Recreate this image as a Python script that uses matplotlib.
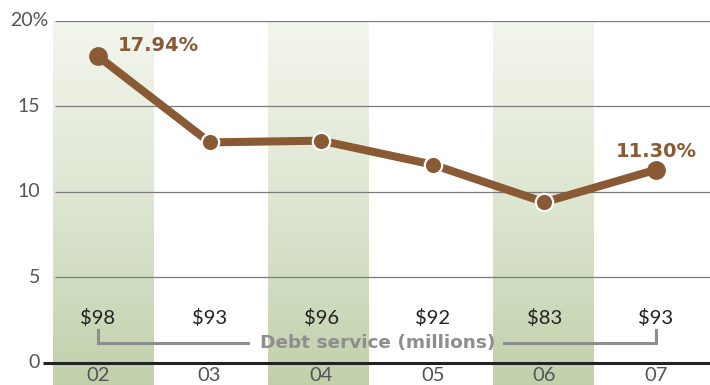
import numpy as np
import matplotlib
matplotlib.use("Agg")
import matplotlib.pyplot as plt
from matplotlib.colors import LinearSegmentedColormap

plt.rcParams['font.family'] = ['Lato', 'DejaVu Sans']

years = ["02", "03", "04", "05", "06", "07"]
ratio = [17.94, 12.9, 13.0, 11.6, 9.4, 11.30]
debt_service = [98, 93, 96, 92, 83, 93]
y_ticks = [0, 5, 10, 15, 20]
y_tick_labels = ["0", "5", "10", "15", "20%"]

brown = "#8a5a34"
grid_gray = "#7a7a7a"
text_gray = "#555555"
bracket_gray = "#8e8e8e"
bold_font = ['DejaVu Sans']

fig = plt.figure(figsize=(7.10, 3.85), dpi=100)
ax = fig.add_axes([0, 0, 1, 1 - 21 / 385])
x = np.arange(len(years))
ax.set_xlim(-0.878, 5.484)
ax.set_ylim(-1.29, 20)
ax.axis("off")

# Alternating green bands, fading to white toward the top
band_cmap = LinearSegmentedColormap.from_list("band", ["#f3f6ee", "#dde6d1", "#c1d0ab"])
grad = np.linspace(0, 1, 256).reshape(-1, 1)
band_centers = [0.045, 1.97, 3.99]
band_half = 0.45
for c in band_centers:
    ax.imshow(grad, extent=(c - band_half, c + band_half, -1.29, 20), cmap=band_cmap,
              aspect="auto", origin="upper", zorder=0, interpolation="bicubic")

# Grid lines and baseline
for t in y_ticks[1:]:
    ax.hlines(t, -0.385, 5.484, color=grid_gray, lw=0.9, zorder=1)
ax.hlines(0, -0.49, 5.484, color="#222222", lw=2.2, zorder=3)

# Y tick labels
for t, lab in zip(y_ticks, y_tick_labels):
    if lab.endswith("%"):
        ax.text(-0.79, t, lab, ha="left", va="center", fontsize=14, color=text_gray)
    else:
        ax.text(-0.52, t, lab, ha="right", va="center", fontsize=14, color=text_gray)

# X tick labels under the baseline
for xi, yr in zip(x, years):
    ax.text(xi, -0.75, yr, ha="center", va="center", fontsize=14.5, color=text_gray)

# Ratio line
ax.plot(x, ratio, color=brown, lw=5.8, zorder=4, solid_capstyle="round")
ax.plot(x[1:-1], ratio[1:-1], "o", ms=12.5, mfc=brown, mec="white", mew=1.6, zorder=5)
ax.plot([x[0], x[-1]], [ratio[0], ratio[-1]], "o", ms=12.5, mfc=brown, mec=brown, zorder=5)

ax.text(x[0] + 0.18, ratio[0] + 0.6, f"{ratio[0]:.2f}%", ha="left", va="center",
        fontsize=14, fontweight="bold", family=bold_font, color=brown, zorder=6)
ax.text(x[-1], ratio[-1] + 1.05, f"{ratio[-1]:.2f}%", ha="center", va="center",
        fontsize=14, fontweight="bold", family=bold_font, color=brown, zorder=6)

# Debt service amounts
for xi, v in zip(x, debt_service):
    ax.text(xi, 2.65, f"${v}", ha="center", va="center", fontsize=14.5, color="#222222", zorder=6)

# Bracket with caption
yb_top, yb = 1.93, 1.17
ax.plot([x[0], x[0], 1.34], [yb_top, yb, yb], color=bracket_gray, lw=2.2, zorder=5,
        solid_joinstyle="miter")
ax.plot([3.64, x[-1], x[-1]], [yb, yb, yb_top], color=bracket_gray, lw=2.2, zorder=5,
        solid_joinstyle="miter")
ax.text(2.51, yb, "Debt service (millions)", ha="center", va="center", fontsize=13.3,
        fontweight="bold", family=bold_font, color=bracket_gray, zorder=6)

fig.savefig("out.png", dpi=100)
